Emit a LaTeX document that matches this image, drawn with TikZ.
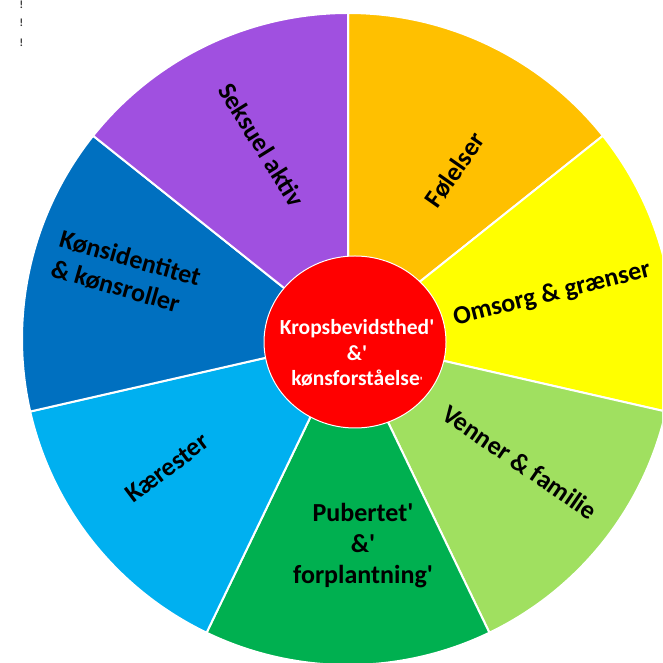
\documentclass[tikz,border=0pt]{standalone}
\usepackage{fontspec}
\usepackage{xcolor}
\usepackage{tikz}
\newfontfamily\wheelfont{Carlito}[Ligatures=TeXOff]
\definecolor{folcol}{HTML}{FFC000}
\definecolor{omscol}{HTML}{FFFF00}
\definecolor{vencol}{HTML}{A0E060}
\definecolor{pubcol}{HTML}{00B050}
\definecolor{kaecol}{HTML}{00B0F0}
\definecolor{konscol}{HTML}{0070C0}
\definecolor{sekcol}{HTML}{A050E0}

\begin{document}
\begin{tikzpicture}[x=1pt,y=1pt]
\tikzstyle{every node}+=[inner sep=0pt]
\tikzstyle{seg}=[draw=white, line width=2pt]
\tikzstyle{lbl}=[font=\wheelfont\bfseries\fontsize{26}{31}\selectfont, align=center]
\tikzstyle{midlbl}=[font=\wheelfont\bfseries\fontsize{21.5}{25.5}\selectfont, align=center, text=white]
\tikzstyle{bang}=[font=\wheelfont\bfseries\fontsize{11}{11}\selectfont, text=black!80]
\useasboundingbox (0,0) rectangle (662,663);
\clip (0,0) rectangle (662,663);
\coordinate (c) at (348,324);
% the seven segments
\filldraw [seg, fill=folcol] (c) -- ++(38.57:326) arc (38.57:90:326) -- cycle;
\filldraw [seg, fill=omscol] (c) -- ++(-12.86:326) arc (-12.86:38.57:326) -- cycle;
\filldraw [seg, fill=vencol] (c) -- ++(-64.29:326) arc (-64.29:-12.86:326) -- cycle;
\filldraw [seg, fill=pubcol] (c) -- ++(-115.71:326) arc (-115.71:-64.29:326) -- cycle;
\filldraw [seg, fill=kaecol] (c) -- ++(-167.14:326) arc (-167.14:-115.71:326) -- cycle;
\filldraw [seg, fill=konscol] (c) -- ++(141.43:326) arc (141.43:192.86:326) -- cycle;
\filldraw [seg, fill=sekcol] (c) -- ++(90:326) arc (90:141.43:326) -- cycle;
% centre
\filldraw [white, line width=1pt, fill=red] (355,321) ellipse (91 and 86);
\node (krop) [midlbl] at (357,310) {Kropsbevidsthed'\\\&'\\kønsforståelse{\fontsize{12}{12}\selectfont'}};
% labels
\node (folelser) [lbl, rotate=55] at (455,493) {Følelser};
\node (omsorg) [lbl, rotate=14] at (552,369) {Omsorg \& grænser};
\node (venner) [lbl, rotate=-34.5] at (520,201) {Venner \& familie};
\node (pubertet) [lbl] at (363,117) {Pubertet'\\\&'\\forplantning'};
\node (kaerester) [lbl, rotate=37] at (167,195) {Kærester};
\node (kons) [lbl, rotate=-16, align=left] at (126,390) {Kønsidentitet\\\& kønsroller};
\node (seksuel) [lbl, rotate=-58] at (262,518) {Seksuel aktiv};
% stray marks
\node (bang1) [bang] at (21.5,658.5) {!};
\node (bang2) [bang] at (21.5,640) {!};
\node (bang3) [bang] at (21.5,620) {!};
\end{tikzpicture}
\end{document}
